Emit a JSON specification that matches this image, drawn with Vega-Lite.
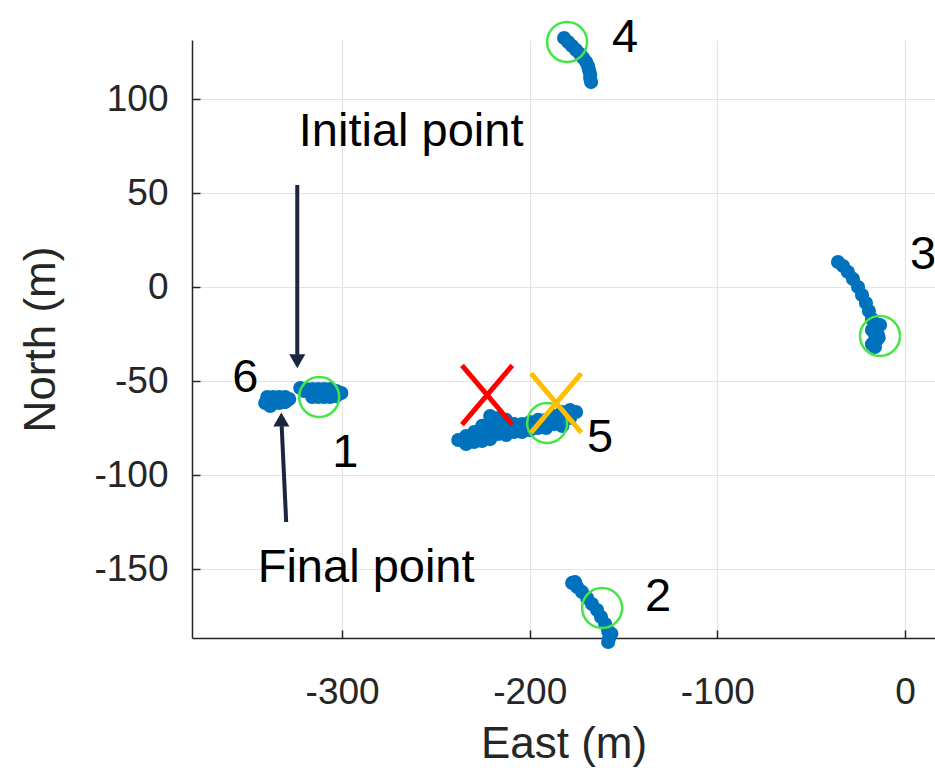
{
  "$schema": "https://vega.github.io/schema/vega-lite/v6.json",
  "autosize": {"type": "none"},
  "padding": {"left": 192, "top": 40, "right": 0, "bottom": 130},
  "width": 743,
  "height": 598,
  "background": "white",
  "config": {
    "view": {"stroke": null},
    "font": "Liberation Sans",
    "axis": {
      "grid": true,
      "gridColor": "#e3e3e3",
      "gridWidth": 1.2,
      "domainColor": "#262626",
      "domainWidth": 1.5,
      "tickColor": "#262626",
      "tickWidth": 1.5,
      "tickSize": -8,
      "labelColor": "#262626",
      "labelFont": "Liberation Sans",
      "labelFontSize": 37,
      "labelExpr": "'' + datum.value",
      "titleColor": "#262626",
      "titleFont": "Liberation Sans",
      "titleFontSize": 44,
      "titleFontWeight": "normal"
    }
  },
  "datasets": {
    "tracks": [
      {"track": 4, "east": -181.7, "north": 132.4},
      {"track": 4, "east": -179.5, "north": 130.3},
      {"track": 4, "east": -177.4, "north": 128.2},
      {"track": 4, "east": -175.3, "north": 126.1},
      {"track": 4, "east": -173.1, "north": 123.9},
      {"track": 4, "east": -171.5, "north": 121.8},
      {"track": 4, "east": -169.9, "north": 119.7},
      {"track": 4, "east": -168.9, "north": 117.6},
      {"track": 4, "east": -168.4, "north": 115.4},
      {"track": 4, "east": -167.8, "north": 113.3},
      {"track": 4, "east": -167.8, "north": 111.2},
      {"track": 4, "east": -167.3, "north": 109.0},
      {"track": 3, "east": -35.7, "north": 13.3},
      {"track": 3, "east": -33.0, "north": 11.2},
      {"track": 3, "east": -30.4, "north": 8.0},
      {"track": 3, "east": -27.7, "north": 4.3},
      {"track": 3, "east": -25.0, "north": 0.0},
      {"track": 3, "east": -22.9, "north": -4.3},
      {"track": 3, "east": -20.8, "north": -8.5},
      {"track": 3, "east": -19.2, "north": -12.8},
      {"track": 3, "east": -17.6, "north": -17.0},
      {"track": 3, "east": -16.5, "north": -21.3},
      {"track": 3, "east": -16.0, "north": -25.0},
      {"track": 3, "east": -15.5, "north": -28.7},
      {"track": 3, "east": -16.0, "north": -31.9},
      {"track": 3, "east": -17.6, "north": -30.5},
      {"track": 3, "east": -14.0, "north": -27.0},
      {"track": 3, "east": -17.6, "north": -22.9},
      {"track": 3, "east": -14.4, "north": -25.5},
      {"track": 3, "east": -16.5, "north": -29.3},
      {"track": 3, "east": -13.3, "north": -20.2},
      {"track": 1, "east": -322.3, "north": -53.7},
      {"track": 1, "east": -320.2, "north": -55.3},
      {"track": 1, "east": -319.1, "north": -54.3},
      {"track": 1, "east": -315.9, "north": -54.3},
      {"track": 1, "east": -312.7, "north": -54.3},
      {"track": 1, "east": -309.6, "north": -54.3},
      {"track": 1, "east": -306.3, "north": -54.3},
      {"track": 1, "east": -303.1, "north": -55.3},
      {"track": 1, "east": -300.4, "north": -56.4},
      {"track": 1, "east": -315.9, "north": -58.5},
      {"track": 1, "east": -312.7, "north": -58.5},
      {"track": 1, "east": -309.6, "north": -58.5},
      {"track": 1, "east": -306.3, "north": -58.5},
      {"track": 1, "east": -303.1, "north": -58.0},
      {"track": 6, "east": -341.0, "north": -61.7},
      {"track": 6, "east": -339.9, "north": -58.5},
      {"track": 6, "east": -336.7, "north": -58.5},
      {"track": 6, "east": -333.5, "north": -58.5},
      {"track": 6, "east": -330.3, "north": -58.5},
      {"track": 6, "east": -328.2, "north": -59.6},
      {"track": 6, "east": -339.9, "north": -61.7},
      {"track": 6, "east": -336.7, "north": -61.7},
      {"track": 6, "east": -333.5, "north": -61.7},
      {"track": 6, "east": -330.3, "north": -61.2},
      {"track": 6, "east": -338.3, "north": -63.3},
      {"track": 5, "east": -238.1, "north": -81.4},
      {"track": 5, "east": -233.9, "north": -79.3},
      {"track": 5, "east": -233.9, "north": -83.5},
      {"track": 5, "east": -229.6, "north": -77.1},
      {"track": 5, "east": -229.6, "north": -82.4},
      {"track": 5, "east": -225.4, "north": -73.9},
      {"track": 5, "east": -225.4, "north": -78.2},
      {"track": 5, "east": -225.4, "north": -81.9},
      {"track": 5, "east": -221.1, "north": -68.6},
      {"track": 5, "east": -221.1, "north": -72.9},
      {"track": 5, "east": -221.1, "north": -77.1},
      {"track": 5, "east": -221.1, "north": -80.9},
      {"track": 5, "east": -216.8, "north": -69.7},
      {"track": 5, "east": -216.8, "north": -73.9},
      {"track": 5, "east": -216.8, "north": -78.2},
      {"track": 5, "east": -212.6, "north": -70.7},
      {"track": 5, "east": -212.6, "north": -75.0},
      {"track": 5, "east": -212.6, "north": -78.7},
      {"track": 5, "east": -208.3, "north": -72.9},
      {"track": 5, "east": -208.3, "north": -77.1},
      {"track": 5, "east": -204.1, "north": -72.9},
      {"track": 5, "east": -204.1, "north": -77.1},
      {"track": 5, "east": -199.8, "north": -71.8},
      {"track": 5, "east": -199.8, "north": -76.1},
      {"track": 5, "east": -195.5, "north": -70.7},
      {"track": 5, "east": -195.5, "north": -75.0},
      {"track": 5, "east": -191.3, "north": -70.7},
      {"track": 5, "east": -191.3, "north": -75.0},
      {"track": 5, "east": -187.0, "north": -68.6},
      {"track": 5, "east": -187.0, "north": -72.9},
      {"track": 5, "east": -182.7, "north": -66.5},
      {"track": 5, "east": -182.7, "north": -70.7},
      {"track": 5, "east": -182.7, "north": -73.9},
      {"track": 5, "east": -178.5, "north": -65.4},
      {"track": 5, "east": -178.5, "north": -69.7},
      {"track": 5, "east": -175.3, "north": -66.5},
      {"track": 2, "east": -177.4, "north": -157.4},
      {"track": 2, "east": -174.7, "north": -159.6},
      {"track": 2, "east": -172.1, "north": -162.2},
      {"track": 2, "east": -169.4, "north": -165.4},
      {"track": 2, "east": -166.8, "north": -168.6},
      {"track": 2, "east": -164.1, "north": -171.8},
      {"track": 2, "east": -162.0, "north": -175.5},
      {"track": 2, "east": -159.8, "north": -179.3},
      {"track": 2, "east": -158.2, "north": -183.0},
      {"track": 2, "east": -157.7, "north": -186.7},
      {"track": 2, "east": -158.2, "north": -188.8},
      {"track": 2, "east": -175.8, "north": -157.0},
      {"track": 2, "east": -156.5, "north": -184.5}
    ],
    "rings": [
      {"track": 4, "east": -180.1, "north": 130.3},
      {"track": 3, "east": -13.3, "north": -26.1},
      {"track": 1, "east": -312.2, "north": -58.5},
      {"track": 5, "east": -190.7, "north": -72.3},
      {"track": 2, "east": -161.4, "north": -170.7}
    ],
    "crosses": [
      {"estimate": "A", "east": -222.7, "north": -57.4},
      {"estimate": "B", "east": -185.9, "north": -61.7}
    ],
    "arrows": [
      {"label": "Initial point", "east": -323.9, "north": 54.3, "east2": -323.9, "north2": -36.0},
      {"label": "Final point", "east": -329.8, "north": -125.0, "east2": -332.2, "north2": -74.0}
    ],
    "heads": [
      {"label": "Initial point", "dir": "down", "east": -323.9, "north": -39.5},
      {"label": "Final point", "dir": "up", "east": -332.4, "north": -70.5}
    ],
    "labels": [
      {"text": "4", "east": -149.2, "north": 132.4},
      {"text": "3", "east": 9.6, "north": 17.0},
      {"text": "6", "east": -351.6, "north": -48.4},
      {"text": "1", "east": -298.3, "north": -88.3},
      {"text": "5", "east": -162.5, "north": -80.3},
      {"text": "2", "east": -131.6, "north": -164.9},
      {"text": "Initial point", "east": -263.2, "north": 82.4},
      {"text": "Final point", "east": -287.2, "north": -149.5}
    ]
  },
  "encoding": {
    "x": {
      "field": "east",
      "type": "quantitative",
      "scale": {"domain": [-380, 16], "nice": false, "zero": false},
      "axis": {"values": [-300, -200, -100, 0], "title": "East (m)", "labelPadding": 44, "titlePadding": 12}
    },
    "y": {
      "field": "north",
      "type": "quantitative",
      "scale": {"domain": [-186.7, 131.4], "nice": false, "zero": false},
      "axis": {"values": [-150, -100, -50, 0, 50, 100], "title": "North (m)", "labelPadding": 32, "titlePadding": 30}
    }
  },
  "layer": [
    {
      "data": {"name": "tracks"},
      "mark": {"type": "point", "filled": true, "shape": "circle", "size": 200, "color": "#0072BD", "opacity": 1}
    },
    {
      "data": {"name": "rings"},
      "mark": {"type": "point", "filled": false, "shape": "circle", "size": 1600, "color": "#44e644", "strokeWidth": 2.5, "opacity": 1}
    },
    {
      "data": {"name": "crosses"},
      "mark": {"type": "point", "filled": false, "shape": "M-0.85,-1L0.85,1M-0.85,1L0.85,-1", "size": 3500, "strokeWidth": 5, "opacity": 1},
      "encoding": {
        "color": {"field": "estimate", "type": "nominal", "scale": {"domain": ["A", "B"], "range": ["#ff0000", "#ffbf00"]}, "legend": null}
      }
    },
    {
      "data": {"name": "arrows"},
      "mark": {"type": "rule", "color": "#1d2540", "strokeWidth": 4},
      "encoding": {
        "x2": {"field": "east2"},
        "y2": {"field": "north2"}
      }
    },
    {
      "data": {"name": "heads"},
      "mark": {"type": "point", "filled": true, "size": 260, "color": "#1d2540", "opacity": 1},
      "encoding": {
        "shape": {"field": "dir", "type": "nominal", "scale": {"domain": ["down", "up"], "range": ["triangle-down", "triangle-up"]}, "legend": null}
      }
    },
    {
      "data": {"name": "labels"},
      "mark": {"type": "text", "font": "Liberation Sans", "fontSize": 47, "color": "#000000", "align": "center", "baseline": "middle"},
      "encoding": {"text": {"field": "text"}}
    }
  ]
}
